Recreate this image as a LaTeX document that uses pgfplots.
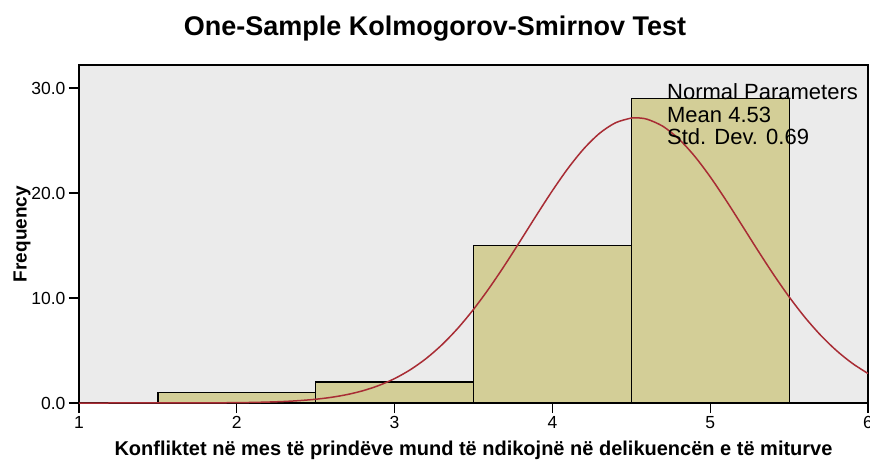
\documentclass[border=0pt]{standalone}
\usepackage{pgfplots}
\pgfplotsset{compat=1.18}
\usepackage{fontspec}
\setmainfont{Liberation Sans}
\definecolor{bgc}{RGB}{235,235,235}
\definecolor{barc}{RGB}{211,206,151}
\definecolor{curvec}{RGB}{168,44,52}
\begin{document}
\begin{tikzpicture}
\begin{axis}[
  name=ax,
  scale only axis,
  width=789pt, height=338pt,
  xmin=1, xmax=6, ymin=0, ymax=32.2,
  axis background/.style={fill=bgc},
  axis line style={black, line width=1.2pt},
  xtick={1,2,3,4,5,6},
  ytick={0,10,20,30},
  yticklabels={0.0,10.0,20.0,30.0},
  tick align=outside,
  xtick pos=bottom, ytick pos=left,
  major tick length=10pt,
  tick style={black, line width=1.2pt},
  ticklabel style={font=\fontsize{17.5}{20}\selectfont},
  /pgf/number format/assume math mode=true,
  xlabel={\bfseries Konfliktet në mes të prindëve mund të ndikojnë në delikuencën e të miturve},
  ylabel={\bfseries Frequency},
  xlabel style={font=\fontsize{20}{22}\selectfont, yshift=-5pt},
  ylabel style={font=\fontsize{19}{22}\selectfont, yshift=-6pt},
  title={\bfseries One-Sample Kolmogorov-Smirnov Test},
  title style={font=\fontsize{27}{30}\selectfont, at={(0.5,1)}, anchor=base, yshift=24pt, xshift=-38.5pt},
  clip=true,
]
\addplot[ybar interval, fill=barc, draw=black, line width=1.2pt] coordinates {
 (1.5,1) (2.5,2) (3.5,15) (4.5,29) (5.5,29)};
\addplot[curvec, line width=1.5pt, smooth] coordinates {
 (1.0,0.0001) (1.5,0.0018) (1.6,0.0033) (1.8,0.0108) (2.0,0.0327) (2.1,0.055)
 (2.2,0.091) (2.3,0.146) (2.4,0.232) (2.5,0.358) (2.6,0.544) (2.7,0.807)
 (2.8,1.173) (2.9,1.669) (3.0,2.326) (3.1,3.174) (3.2,4.240) (3.3,5.549)
 (3.4,7.109) (3.5,8.919) (3.6,10.957) (3.7,13.180) (3.8,15.527) (3.9,17.911)
 (4.0,20.231) (4.1,22.378) (4.2,24.237) (4.3,25.707) (4.4,26.696) (4.5,27.148)
 (4.53,27.174) (4.6,27.035) (4.7,26.362) (4.8,25.171) (4.9,23.535) (5.0,21.548)
 (5.1,19.318) (5.2,16.960) (5.3,14.580) (5.4,12.273) (5.5,10.116) (5.6,8.165)
 (5.7,6.454) (5.8,4.995) (5.9,3.785) (6.0,2.810)};
\node[anchor=west, align=left, font=\fontsize{22}{22.5}\selectfont, inner sep=0pt]
  at (axis cs:4.726,27.5) {Normal Parameters\\Mean 4.53\\Std. Dev. 0.69};
\end{axis}
\pgfresetboundingbox
\useasboundingbox ([shift={(-79pt,-58pt)}]ax.south west) rectangle ([shift={(2pt,65pt)}]ax.north east);
\end{tikzpicture}
\end{document}
